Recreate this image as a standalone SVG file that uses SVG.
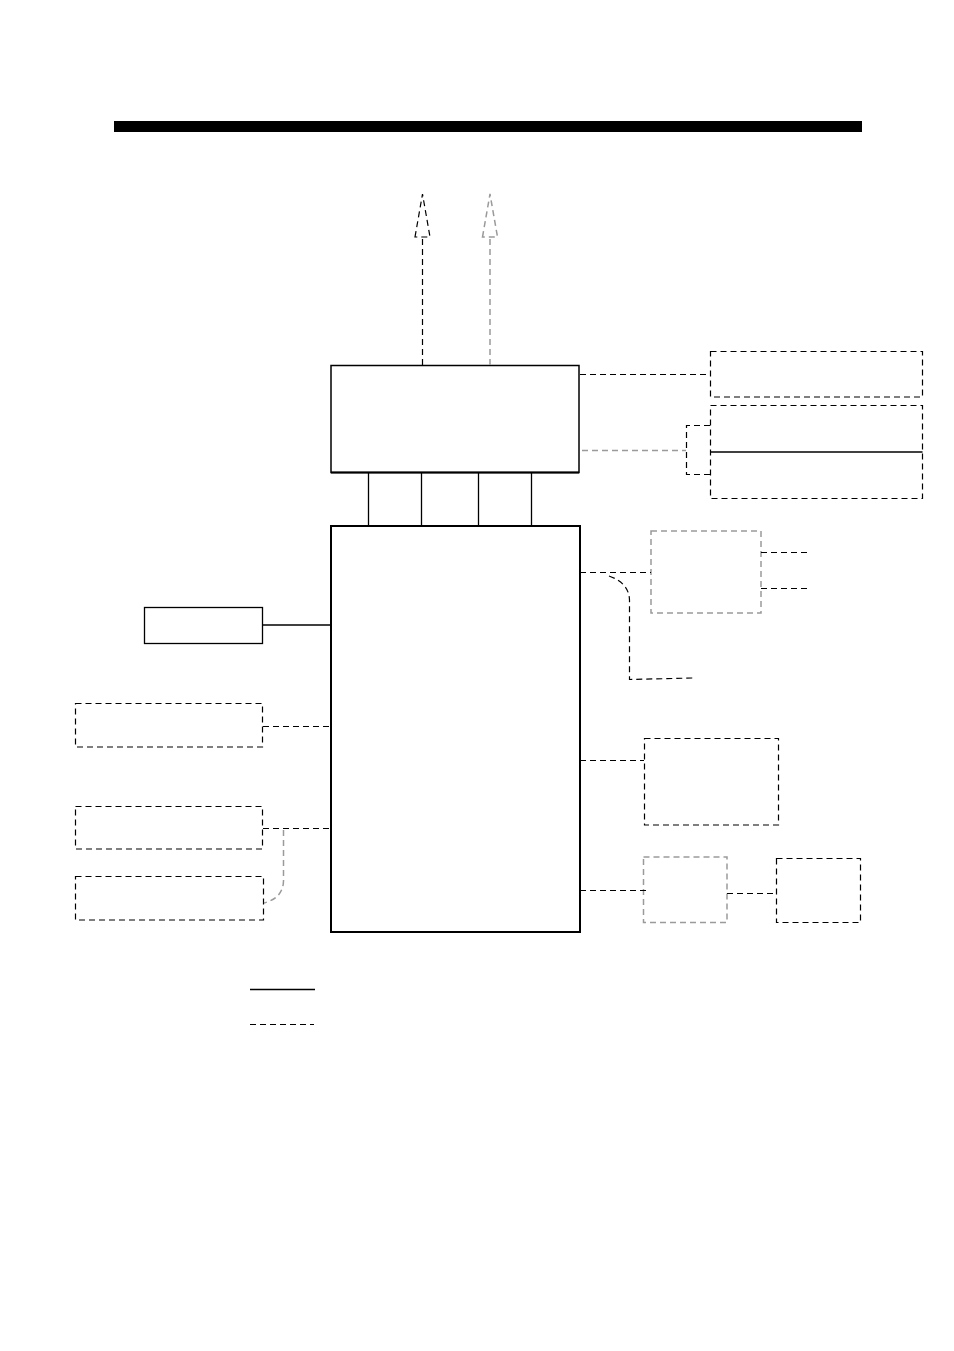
<svg xmlns="http://www.w3.org/2000/svg" width="954" height="1351" viewBox="0 0 954 1351">
<style>
.s{fill:none;stroke:#000;stroke-width:1.3}
.d{fill:none;stroke:#000;stroke-width:1.2;stroke-dasharray:6 4}
.g{fill:none;stroke:#9a9a9a;stroke-width:1.5;stroke-dasharray:6 4}
</style>
<rect width="954" height="1351" fill="#fff"/>
<rect id="title-bar" x="114" y="121" width="748" height="11" fill="#000"/>
<g id="upper-unit"><rect x="331" y="365.5" width="248" height="107" fill="none" stroke="#000" stroke-width="1.5"/><line x1="331" y1="472.5" x2="579" y2="472.5" stroke="#000" stroke-width="2"/></g>
<g id="main-unit"><rect x="331" y="526" width="249" height="406" fill="none" stroke="#000" stroke-width="2"/></g>
<g id="right-box-1"><rect class="d" x="710.5" y="351.5" width="212" height="45.5"/></g>
<g id="right-box-2"><rect class="d" x="710.5" y="405.5" width="212" height="93"/><line class="s" x1="710.5" y1="452" x2="922.5" y2="452"/></g>
<g id="right-gray-box"><rect class="g" x="651" y="531" width="110" height="82"/></g>
<g id="right-box-3"><rect class="d" x="644.5" y="738.5" width="134" height="86.5"/></g>
<g id="right-gray-box-2"><rect class="g" x="643.5" y="857" width="83.5" height="65.5"/></g>
<g id="right-box-4"><rect class="d" x="776.5" y="858.5" width="84" height="64"/></g>
<g id="left-solid-box"><rect class="s" x="144.5" y="607.5" width="118" height="36"/></g>
<g id="left-box-1"><rect class="d" x="75.5" y="703.5" width="187" height="43.5"/></g>
<g id="left-box-2"><rect class="d" x="75.5" y="806.5" width="187" height="42.5"/></g>
<g id="left-box-3"><rect class="d" x="75.5" y="876.5" width="188" height="43.5"/></g>
<g id="connectors">
<line class="s" x1="368.5" y1="473" x2="368.5" y2="525"/>
<line class="s" x1="421.5" y1="473" x2="421.5" y2="525"/>
<line class="s" x1="478.5" y1="473" x2="478.5" y2="525"/>
<line class="s" x1="531.5" y1="473" x2="531.5" y2="525"/>
<line class="d" x1="422.5" y1="365" x2="422.5" y2="237"/>
<path class="d" d="M415 237 L422.5 194 L430 237 Z" stroke-dasharray="5 4"/>
<line class="g" x1="490" y1="365" x2="490" y2="237"/>
<path class="g" d="M482.5 237 L490 194 L497.5 237 Z" stroke-dasharray="5 4"/>
<line class="d" x1="580" y1="374.5" x2="710" y2="374.5"/>
<line class="g" x1="582" y1="450.5" x2="686" y2="450.5"/>
<path class="d" d="M710 425.5 L686.5 425.5 L686.5 474.5 L710 474.5"/>
<line class="d" x1="580" y1="572.5" x2="651" y2="572.5"/>
<line class="d" x1="761" y1="552.5" x2="807" y2="552.5"/>
<line class="d" x1="761" y1="588.5" x2="807" y2="588.5"/>
<path class="d" d="M609 576 Q629 583 629.5 600 L629.5 679.5 L693 678"/>
<line class="d" x1="580" y1="760.5" x2="644" y2="760.5"/>
<line class="d" x1="580" y1="890.5" x2="648" y2="890.5"/>
<line class="d" x1="727" y1="893.5" x2="776" y2="893.5"/>
<line class="s" x1="263" y1="625" x2="330" y2="625"/>
<line class="d" x1="263" y1="726.5" x2="329" y2="726.5"/>
<line class="d" x1="263" y1="828.5" x2="329" y2="828.5"/>
<path class="g" d="M283.5 830 L283.5 881 Q283 898 264 903"/>
</g>
<g id="legend">
<line class="s" x1="250" y1="989.5" x2="315" y2="989.5"/>
<line class="d" x1="250" y1="1024.5" x2="314" y2="1024.5" stroke-dasharray="5.5 3.5"/>
</g>
</svg>
